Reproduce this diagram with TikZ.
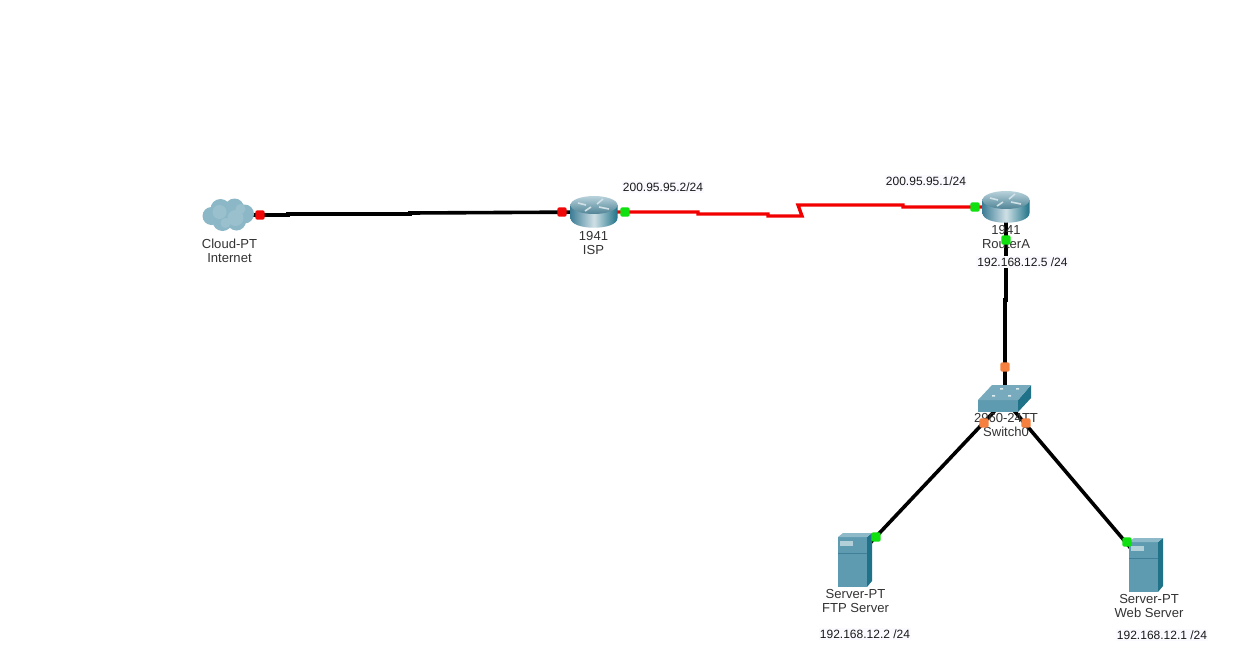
\documentclass[tikz,border=0pt]{standalone}
\usepackage{fontspec}
\setmainfont{Liberation Sans}
\definecolor{ethgreen}{HTML}{10E010}
\definecolor{portred}{HTML}{F00808}
\definecolor{portorange}{HTML}{F58040}
\definecolor{teal1}{HTML}{5E9BB0}
\definecolor{teal2}{HTML}{3F7F97}
\definecolor{teal3}{HTML}{1F7288}
\definecolor{lightc}{HTML}{CFE0E6}
\tikzset{
  x=0.75pt,y=-0.75pt,
  wire/.style={line width=2.7pt,black,line join=miter},
  serial/.style={line width=2.5pt,red!95!black,line join=miter},
  port/.style={draw=none,minimum size=7pt,inner sep=0pt,outer sep=0pt,rectangle,rounded corners=1.5pt},
  up/.style={port,fill=ethgreen},
  down/.style={port,fill=portred},
  amber/.style={port,fill=portorange},
  devlabel/.style={font=\fontsize{9.8}{10.5}\selectfont,align=center,text=black!80,inner sep=0pt},
  iplabel/.style={font=\fontsize{9}{10}\selectfont,text=black!90,inner sep=1pt,fill=blue!2},
  routericon/.pic={
    \shade[left color=teal2,right color=teal3,middle color=lightc] (-23.5,-7) -- (-23.5,6) .. controls (-23.5,19) and (23.5,19) .. (23.5,6) -- (23.5,-7) -- cycle;
    \shade[top color=lightc!80!teal1,bottom color=teal1!85!black] (0,-7) ellipse[x radius=23.5,y radius=9];
    \draw[white!70!teal1,line width=1.2pt] (-16,-9) -- (-8,-7) (9,-13) -- (3,-8) (-9,-1) -- (-3,-5) (5,-5) -- (15,-3);
  },
  cloudicon/.pic={
    \fill[teal1!72!white] (-17,1) circle[radius=9] (-8,-6) circle[radius=10] (6,-7) circle[radius=9.5] (16,-1) circle[radius=9.5] (8,6) circle[radius=9.5] (-6,6) circle[radius=10];
    \fill[lightc!70!teal1,opacity=.45] (-9,-3) circle[radius=7] (7,3) circle[radius=8] (12,-6) circle[radius=5] (-3,8) circle[radius=5];
  },
  switchicon/.pic={
    \fill[teal1] (-27,0) rectangle (13,12);
    \fill[teal3] (13,0) -- (26,-15) -- (26,-2) -- (13,12) -- cycle;
    \fill[teal1!85!white] (-27,0) -- (-13,-15) -- (26,-15) -- (13,0) -- cycle;
    \fill[white!80!teal1] (-5,-12) rectangle ++(3,1.6) (11,-12) rectangle ++(3,1.6) (-13,-5) rectangle ++(3,1.6) (3,-5) rectangle ++(3,1.6);
  },
  servericon/.pic={
    \fill[teal1] (-16,-23) rectangle (13,27);
    \fill[teal3] (13,-23) -- (18,-27) -- (18,21) -- (13,27) -- cycle;
    \fill[teal1!70!white] (-16,-23) -- (-11,-27) -- (18,-27) -- (13,-23) -- cycle;
    \fill[lightc!75!teal1] (-14,-19) rectangle (-1,-14);
    \draw[teal2,line width=.4pt] (-16,-7) -- (13,-7);
  },
}
\begin{document}
\begin{tikzpicture}
\useasboundingbox (0,0) rectangle (1251,664);
\fill[white] (0,0) rectangle (1251,664);
% device anchors
\node[inner sep=0pt] (cloud) at (228.5,215) {};
\node[inner sep=0pt] (isp) at (594,212) {};
\node[inner sep=0pt] (routera) at (1006,207) {};
\node[inner sep=0pt] (switch) at (1005,400) {};
\node[inner sep=0pt] (ftp) at (854,560) {};
\node[inner sep=0pt] (web) at (1145,565) {};
% connectors
\draw[wire] (cloud) -- (288,215) -- (288,214) -- (410,214) -- (410,213) -- (isp);
\draw[serial] (isp) -- (698,212) -- (698,214) -- (768,214) -- (768,216) -- (802,216) -- (798,205) -- (903,205) -- (903,207) -- (routera);
\draw[wire] (routera) -- (1006,300) -- (1005,300) -- (switch);
\draw[wire] (switch) -- (ftp);
\draw[wire] (switch) -- (web);
% icons
\pic at (cloud) {cloudicon};
\pic at (isp) {routericon};
\pic at (routera) {routericon};
\pic at (switch) {switchicon};
\pic at (ftp) {servericon};
\pic at (web) {servericon};
% labels
\node[devlabel] (l1) at (229.5,251) {Cloud-PT\\Internet};
\node[devlabel] (l2) at (593.5,243) {1941\\ISP};
\node[devlabel] (l3) at (1006,237) {1941\\RouterA};
\node[devlabel] (l4) at (1006,425) {2960-24TT\\Switch0};
\node[devlabel] (l5) at (855.5,601) {Server-PT\\FTP Server};
\node[devlabel] (l6) at (1149,606) {Server-PT\\Web Server};
\node[iplabel] (i1) at (663,187) {200.95.95.2/24};
\node[iplabel] (i2) at (926,181) {200.95.95.1/24};
\node[iplabel] (i3) at (1022.5,262) {192.168.12.5 /24};
\node[iplabel] (i4) at (865,634) {192.168.12.2 /24};
\node[iplabel] (i5) at (1162,635) {192.168.12.1 /24};
% ports
\node[down] (p1) at (260,215) {};
\node[down] (p2) at (562,212) {};
\node[up] (p3) at (625,212) {};
\node[up] (p4) at (975,207) {};
\node[up] (p5) at (1006,240) {};
\node[amber] (p6) at (1005,367) {};
\node[amber] (p7) at (984,423) {};
\node[amber] (p8) at (1026,423) {};
\node[up] (p9) at (876,537) {};
\node[up] (p10) at (1127,542) {};
\end{tikzpicture}
\end{document}
